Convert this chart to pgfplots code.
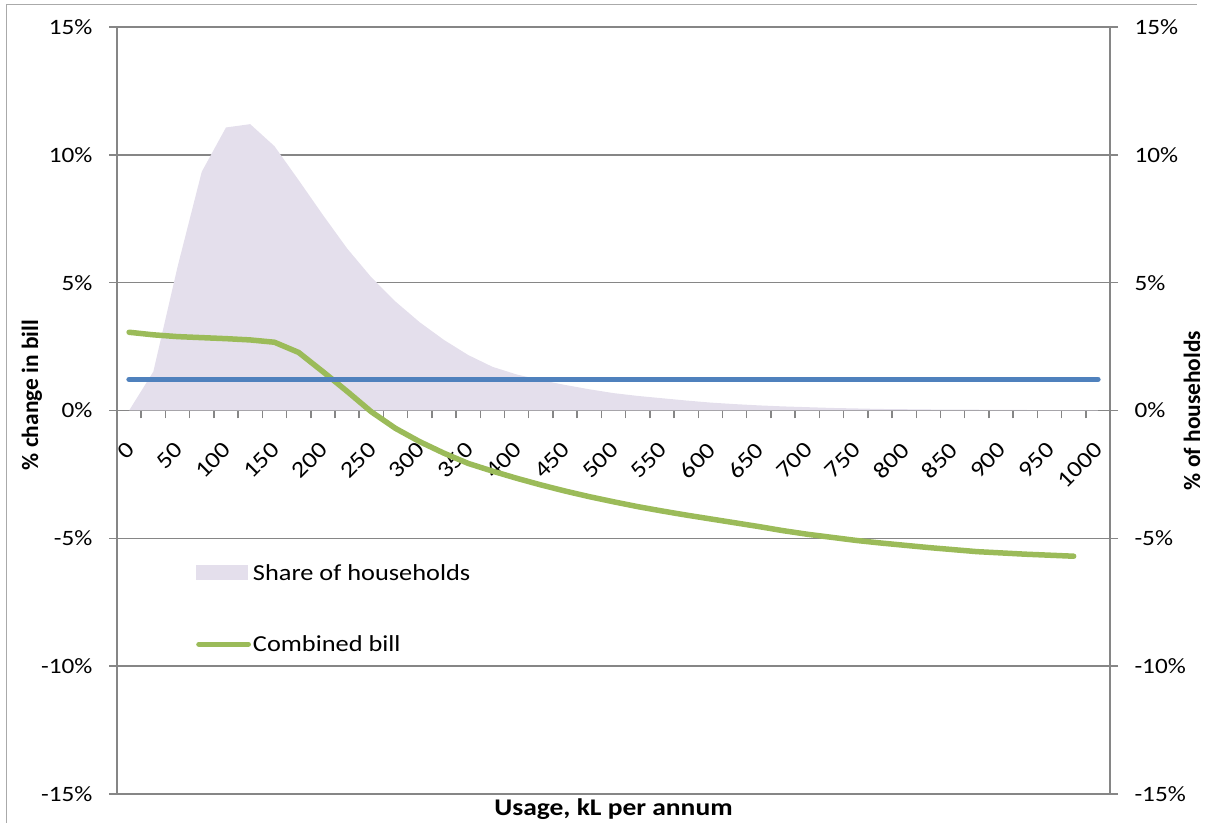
\documentclass[border=0pt]{standalone}
\usepackage{fontspec}
\setmainfont{Carlito}[FakeStretch=1.15]
\newfontfamily\vfont{Carlito}
\usepackage{pgfplots}
\usepackage{pgfplotstable}
\pgfplotsset{compat=1.18}
\definecolor{shareC}{HTML}{E4DFEC}
\definecolor{billC}{HTML}{9BBB59}
\definecolor{flatC}{HTML}{4F81BD}
\definecolor{gridC}{HTML}{868686}

\pgfplotstableread{
x y
0 0
25 1.52
50 5.62
75 9.34
100 11.07
125 11.2
150 10.34
175 9.01
200 7.65
225 6.34
250 5.21
275 4.26
300 3.45
325 2.76
350 2.17
375 1.71
400 1.41
425 1.19
450 1.00
475 0.83
500 0.68
525 0.57
550 0.48
575 0.39
600 0.31
625 0.25
650 0.20
675 0.16
700 0.13
725 0.10
750 0.08
775 0.06
800 0.05
825 0.04
850 0.03
875 0.03
900 0.02
925 0.02
950 0.01
975 0.01
1000 0.01
}\sharetab

\pgfplotstableread{
x y
0 3.06
25 2.96
50 2.89
75 2.85
100 2.81
125 2.76
150 2.67
175 2.27
200 1.52
225 0.75
250 -0.05
275 -0.70
300 -1.22
325 -1.67
350 -2.07
375 -2.37
400 -2.65
425 -2.91
450 -3.15
475 -3.37
500 -3.57
525 -3.76
550 -3.93
575 -4.09
600 -4.24
625 -4.39
650 -4.54
675 -4.70
700 -4.84
725 -4.96
750 -5.08
775 -5.18
800 -5.27
825 -5.36
850 -5.44
875 -5.52
900 -5.57
925 -5.62
950 -5.66
975 -5.70
}\billtab

\pgfplotstableread{
x y
0 1.22
1000 1.22
}\flattab

\begin{document}
\begin{tikzpicture}
\begin{axis}[
  at={(0bp,0bp)}, anchor=south west,
  scale only axis, width=993bp, height=767bp,
  xmin=-12.5, xmax=1012.5, ymin=-15, ymax=15,
  axis x line*=middle, axis y line*=left,
  hide obscured x ticks=false, hide obscured y ticks=false,
  axis line style={draw=gridC, line width=1.5bp},
  tick align=outside,
  major tick length=8bp,
  tick style={draw=gridC, line width=1.5bp},
  xtick={-12.5,12.5,...,1012.5},
  xticklabels={},
  extra x ticks={0,50,...,1000},
  extra x tick labels={0,50,100,150,200,250,300,350,400,450,500,550,600,650,700,750,800,850,900,950,1000},
  extra x tick style={major tick length=0pt, major tick style={draw=none}},
  xticklabel style={font=\fontsize{23}{27}\selectfont, yshift=-35bp, xshift=2bp, rotate=45, anchor=east, inner sep=1bp},
  ytick={-15,-10,...,15},
  yticklabels={-15\%,-10\%,-5\%,0\%,5\%,10\%,15\%},
  yticklabel style={font=\fontsize{22}{26}\selectfont, anchor=east, xshift=-13bp},
  ymajorgrids, grid style={draw=gridC, line width=1.5bp},
  xlabel={Usage, kL per annum},
  xlabel style={at={(axis description cs:0.5,0)}, anchor=base, yshift=-21bp, font=\bfseries\fontsize{24}{28}\selectfont},
  ylabel={\% change in bill},
  ylabel style={at={(axis description cs:-0.0856,0.52)}, anchor=center, font=\vfont\bfseries\fontsize{23.5}{28}\selectfont},
  legend style={at={(axis description cs:0.0796,0.3025)}, anchor=north west, draw=none, fill=none,
    font=\fontsize{23}{27}\selectfont, row sep=50bp, inner sep=0pt},
  legend cell align=left,
]
\addplot[draw=none, fill=shareC, legend image code/.code={\fill[shareC] (0bp,-7.5bp) rectangle (52bp,7.5bp);}] table[x=x,y=y] {\sharetab} \closedcycle;
\addlegendentry{Share of households}
\addlegendimage{billC, line width=5.5bp, line cap=round,
  legend image code/.code={\draw[billC, line width=5.5bp, line cap=round] (2.75bp,0bp) -- (52bp,0bp);}}
\addlegendentry{Combined bill}
\end{axis}
\begin{axis}[
  at={(0bp,0bp)}, anchor=south west,
  scale only axis, width=993bp, height=767bp,
  xmin=-12.5, xmax=1012.5, ymin=-15, ymax=15,
  axis x line=none, axis y line*=right,
  axis line style={draw=gridC, line width=1.5bp},
  tick align=outside, major tick length=8bp,
  tick style={draw=gridC, line width=1.5bp},
  ytick={-15,-10,...,15},
  yticklabels={-15\%,-10\%,-5\%,0\%,5\%,10\%,15\%},
  yticklabel style={font=\fontsize{22}{26}\selectfont, anchor=west, xshift=13bp},
  ylabel={\% of households},
  ylabel style={at={(axis description cs:1.0826,0.50)}, anchor=center, font=\vfont\bfseries\fontsize{23.5}{28}\selectfont},
]
\addplot[billC, line width=5.5bp, line cap=round, line join=round] table[x=x,y=y] {\billtab};
\addplot[flatC, line width=5.5bp, line cap=round] table[x=x,y=y] {\flattab};
\end{axis}
\draw[gridC!70, line width=1bp] (-110bp,-29bp) -- (-110bp,789bp) -- (1080bp,789bp);
\pgfresetboundingbox
\path (-117bp,-29bp) rectangle (1089bp,794bp);
\end{tikzpicture}
\end{document}
